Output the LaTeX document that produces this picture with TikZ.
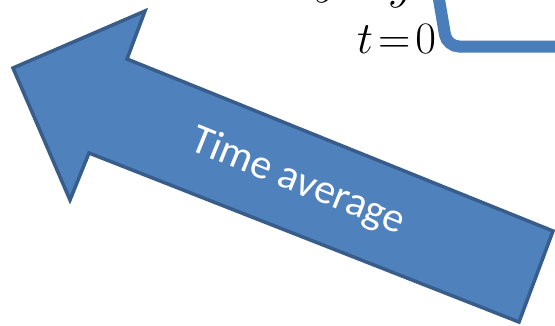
\documentclass[tikz,border=0pt]{standalone}
\usepackage{fontspec}
\newfontfamily\carlito{Carlito}
\definecolor{arrowfill}{HTML}{4F81BD}
\definecolor{arrowline}{HTML}{385D8A}
\definecolor{boxline}{HTML}{4A7EBB}
\tikzset{
  bigarrow/.style={draw=arrowline, fill=arrowfill, line width=3.5pt, line join=miter},
  boxedge/.style={draw=boxline, line width=12pt, rounded corners=12pt},
  mathtxt/.style={inner sep=0pt},
  arrowlabel/.style={text=white, inner sep=0pt, font=\carlito\fontsize{42}{50}\selectfont}
}
\newcommand{\bigmath}[2]{\scalebox{#1}{\fontsize{17}{20}\selectfont #2}}
\begin{document}
\begin{tikzpicture}[x=1pt,y=-1pt]
\useasboundingbox (0,0) rectangle (555,325);
\clip (0,0) rectangle (555,325);
% partial rounded box at top right
\draw[boxedge] (434,-30) -- (447,46.5) -- (600,46.5);
% cut-off formula above
\node[mathtxt, anchor=base] (ya) at (327,-7) {\bigmath{2.8}{$y$}};
\node[mathtxt, anchor=base] (yb) at (401,-2) {\bigmath{2.8}{$y$}};
\node[mathtxt, anchor=base west] (t0) at (357,53) {\bigmath{2.6}{$t\mkern-3mu=\mkern-3mu0$}};
% big arrow
\draw[bigarrow] (13,68) -- (145,11) -- (127,59) -- (553,231) -- (519,322) -- (89,153) -- (70,200) -- cycle;
\node[arrowlabel, rotate=-22] (lbl) at (298,182) {Time average};
\end{tikzpicture}
\end{document}
